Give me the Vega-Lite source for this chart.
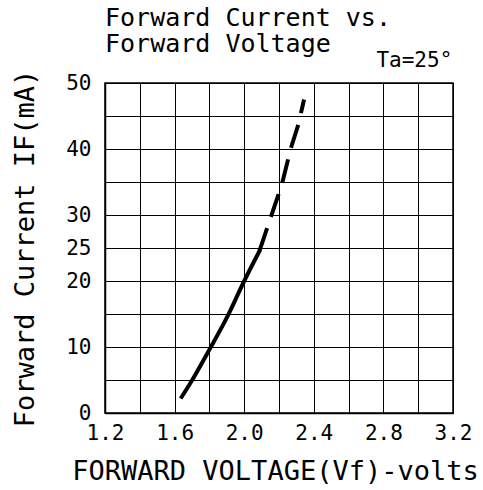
{
  "$schema": "https://vega.github.io/schema/vega-lite/v6.json",
  "autosize": {"type": "none"},
  "width": 348,
  "height": 330,
  "padding": {"left": 105, "top": 83, "right": 30, "bottom": 77},
  "background": "white",
  "title": {
    "text": ["Forward Current vs.", "Forward Voltage"],
    "anchor": "start",
    "frame": "group",
    "font": "DejaVu Sans Mono",
    "fontSize": 25,
    "fontWeight": "normal",
    "color": "black",
    "lineHeight": 26,
    "baseline": "top",
    "offset": 0,
    "dy": 7
  },
  "config": {
    "view": {"stroke": "black", "strokeWidth": 1.5},
    "axis": {
      "grid": true,
      "gridColor": "black",
      "gridOpacity": 1,
      "gridWidth": 1,
      "domainColor": "black",
      "domainWidth": 1.5,
      "ticks": false,
      "labelFont": "DejaVu Sans Mono",
      "labelFontSize": 21,
      "labelColor": "black",
      "labelFlush": false,
      "labelOverlap": false,
      "titleFont": "DejaVu Sans Mono",
      "titleFontSize": 27,
      "titleFontWeight": "normal",
      "titleColor": "black"
    }
  },
  "layer": [
    {
      "data": {"values": [
        {"v": 1.635, "I": 2.2},
        {"v": 1.69, "I": 4.5},
        {"v": 1.8, "I": 9.6},
        {"v": 1.909, "I": 14.9},
        {"v": 2.0, "I": 20.0},
        {"v": 2.091, "I": 24.7}
      ]},
      "mark": {"type": "line", "color": "black", "strokeWidth": 4, "interpolate": "monotone", "strokeCap": "butt"},
      "encoding": {
        "x": {
          "field": "v", "type": "quantitative",
          "scale": {"domain": [1.2, 3.2], "nice": false, "zero": false},
          "axis": {
            "values": [1.2, 1.4, 1.6, 1.8, 2.0, 2.2, 2.4, 2.6, 2.8, 3.0, 3.2],
            "format": ".1f",
            "labelExpr": "round(datum.value * 10) % 4 == 0 ? datum.label : ''",
            "labelPadding": 9,
            "labelAngle": 0,
            "title": "FORWARD VOLTAGE(Vf)-volts",
            "titleX": 170,
            "titleY": 66,
            "titleBaseline": "alphabetic",
            "titleAlign": "center"
          }
        },
        "y": {
          "field": "I", "type": "quantitative",
          "scale": {"domain": [0, 50], "nice": false},
          "axis": {
            "values": [0, 5, 10, 15, 20, 25, 30, 35, 40, 45, 50],
            "labelExpr": "indexof([0, 10, 20, 25, 30, 40, 50], datum.value) >= 0 ? datum.label : ''",
            "labelPadding": 14,
            "title": "Forward Current IF(mA)",
            "titleAngle": -90,
            "titleX": -72,
            "titleY": 165,
            "titleBaseline": "alphabetic",
            "titleAlign": "center"
          }
        }
      }
    },
    {
      "data": {"values": [
        {"v": 2.08, "I": 24.0},
        {"v": 2.1, "I": 25.5},
        {"v": 2.148, "I": 29.3},
        {"v": 2.216, "I": 34.6},
        {"v": 2.269, "I": 40.2},
        {"v": 2.311, "I": 43.7},
        {"v": 2.344, "I": 47.5}
      ]},
      "mark": {"type": "line", "color": "black", "strokeWidth": 4, "strokeDash": [24, 12], "strokeDashOffset": 10, "strokeCap": "butt"},
      "encoding": {
        "x": {
          "field": "v", "type": "quantitative",
          "scale": {"domain": [1.2, 3.2], "nice": false, "zero": false},
          "axis": {
            "values": [1.2, 1.4, 1.6, 1.8, 2.0, 2.2, 2.4, 2.6, 2.8, 3.0, 3.2],
            "format": ".1f",
            "labelExpr": "round(datum.value * 10) % 4 == 0 ? datum.label : ''",
            "labelPadding": 9,
            "labelAngle": 0,
            "title": "FORWARD VOLTAGE(Vf)-volts",
            "titleX": 170,
            "titleY": 66,
            "titleBaseline": "alphabetic",
            "titleAlign": "center"
          }
        },
        "y": {
          "field": "I", "type": "quantitative",
          "scale": {"domain": [0, 50], "nice": false},
          "axis": {
            "values": [0, 5, 10, 15, 20, 25, 30, 35, 40, 45, 50],
            "labelExpr": "indexof([0, 10, 20, 25, 30, 40, 50], datum.value) >= 0 ? datum.label : ''",
            "labelPadding": 14,
            "title": "Forward Current IF(mA)",
            "titleAngle": -90,
            "titleX": -72,
            "titleY": 165,
            "titleBaseline": "alphabetic",
            "titleAlign": "center"
          }
        },
        "order": {"field": "I", "sort": "descending"}
      }
    },
    {
      "data": {"values": [{"label": "Ta=25°"}]},
      "mark": {"type": "text", "font": "DejaVu Sans Mono", "fontSize": 21, "color": "black", "align": "left", "baseline": "alphabetic"},
      "encoding": {
        "text": {"field": "label"},
        "x": {
          "datum": 2.76, "type": "quantitative",
          "scale": {"domain": [1.2, 3.2], "nice": false, "zero": false},
          "axis": {
            "values": [1.2, 1.4, 1.6, 1.8, 2.0, 2.2, 2.4, 2.6, 2.8, 3.0, 3.2],
            "format": ".1f",
            "labelExpr": "round(datum.value * 10) % 4 == 0 ? datum.label : ''",
            "labelPadding": 9,
            "labelAngle": 0,
            "title": "FORWARD VOLTAGE(Vf)-volts",
            "titleX": 170,
            "titleY": 66,
            "titleBaseline": "alphabetic",
            "titleAlign": "center"
          }
        },
        "y": {
          "datum": 52.5, "type": "quantitative",
          "scale": {"domain": [0, 50], "nice": false},
          "axis": {
            "values": [0, 5, 10, 15, 20, 25, 30, 35, 40, 45, 50],
            "labelExpr": "indexof([0, 10, 20, 25, 30, 40, 50], datum.value) >= 0 ? datum.label : ''",
            "labelPadding": 14,
            "title": "Forward Current IF(mA)",
            "titleAngle": -90,
            "titleX": -72,
            "titleY": 165,
            "titleBaseline": "alphabetic",
            "titleAlign": "center"
          }
        }
      }
    }
  ]
}
